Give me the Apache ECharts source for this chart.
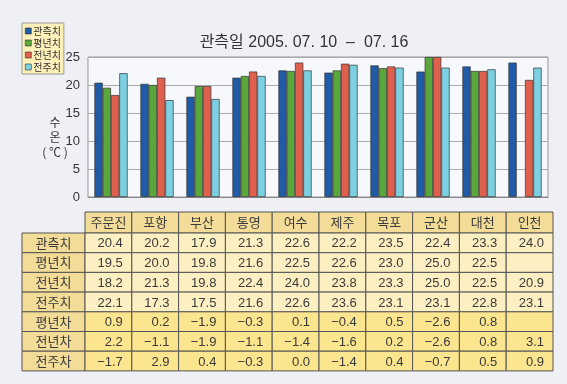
<!DOCTYPE html>
<html><head><meta charset="utf-8">
<script src="https://cdn.jsdelivr.net/npm/echarts@6/dist/echarts.min.js"></script>
<style>html,body{margin:0;padding:0;background:#eef0f6;}#c{width:567px;height:384px;}</style>
</head><body><div id="c"></div>
<script>
var stations = ['주문진','포항','부산','통영','여수','제주','목포','군산','대천','인천'];
var seriesNames = ['관측치','평년치','전년치','전주치'];
var observed = [20.4,20.2,17.9,21.3,22.6,22.2,23.5,22.4,23.3,24.0];
var normal   = [19.5,20.0,19.8,21.6,22.5,22.6,23.0,25.0,22.5,null];
var lastYear = [18.2,21.3,19.8,22.4,24.0,23.8,23.3,25.0,22.5,20.9];
var lastWeek = [22.1,17.3,17.5,21.6,22.6,23.6,23.1,23.1,22.8,23.1];
var diffNormal   = [0.9,0.2,-1.9,-0.3,0.1,-0.4,0.5,-2.6,0.8,null];
var diffLastYear = [2.2,-1.1,-1.9,-1.1,-1.4,-1.6,0.2,-2.6,0.8,3.1];
var diffLastWeek = [-1.7,2.9,0.4,-0.3,0.0,-1.4,0.4,-0.7,0.5,0.9];
var diffNames = ['평년차','전년차','전주차'];
var yTicks = [0,5,10,15,20,25];
var colors = ['#1f5ba6','#5aa83c','#e0604e','#7dd0e2'];

var chart = echarts.init(document.getElementById('c'));
var kr = '"Noto Sans CJK KR", sans-serif';
var num = '"Liberation Sans", Arial, sans-serif';
var mix = '"Liberation Sans", "Noto Sans CJK KR", sans-serif';

// table graphics
var g = [];
var colX0 = 85, colW = 46.8, labX0 = 22, headY = 212, headH = 21, rowH = 19.7;
var hdrBg = '#f3dc98', cellBg = '#fcefc2', diffBg = '#fbe58e', bd = '#555';
function rect(x,y,w,h,fill){ g.push({type:'rect',shape:{x:x,y:y,width:w,height:h},style:{fill:fill,stroke:bd,lineWidth:1},silent:true}); }
function txt(x,y,s,align,font){ g.push({type:'text',x:x,y:y,style:{text:s,textAlign:align,textVerticalAlign:'middle',fontSize:13,fontFamily:font,fill:'#3a3a3a'},silent:true}); }
stations.forEach(function(s,i){
  rect(colX0+i*colW, headY, colW, headH, hdrBg);
  txt(colX0+i*colW+colW/2, headY+headH/2, s, 'center', kr);
});
var rows = [
  [seriesNames[0], observed, cellBg],
  [seriesNames[1], normal, cellBg],
  [seriesNames[2], lastYear, cellBg],
  [seriesNames[3], lastWeek, cellBg],
  [diffNames[0], diffNormal, diffBg],
  [diffNames[1], diffLastYear, diffBg],
  [diffNames[2], diffLastWeek, diffBg]
];
rows.forEach(function(r,ri){
  var y = headY+headH+ri*rowH;
  rect(labX0, y, colX0-labX0, rowH, hdrBg);
  txt((labX0+colX0)/2, y+rowH/2, r[0], 'center', kr);
  r[1].forEach(function(v,i){
    rect(colX0+i*colW, y, colW, rowH, r[2]);
    if (v !== null) txt(colX0+(i+1)*colW-9, y+rowH/2+1, v.toFixed(1).replace('-', '−'), 'right', num);
  });
});
// y axis name
g.push({type:'text',x:55,y:122,style:{text:'수',fontSize:12,fontFamily:kr,fill:'#333',textAlign:'center',textVerticalAlign:'middle'}});
g.push({type:'text',x:55,y:137,style:{text:'온',fontSize:12,fontFamily:kr,fill:'#333',textAlign:'center',textVerticalAlign:'middle'}});
g.push({type:'text',x:55,y:152,style:{text:'( ℃ )',fontSize:12,fontFamily:kr,fill:'#333',textAlign:'center',textVerticalAlign:'middle'}});

var data = [observed, normal, lastYear, lastWeek];
chart.setOption({
  backgroundColor:'#eef0f6',
  animation:false,
  title:{text:'관측일 2005. 07. 10  –  07. 16', left:299, top:30, textAlign:'center',
    textStyle:{fontSize:16,fontWeight:'normal',fontFamily:mix,color:'#333'}},
  legend:{data:seriesNames, orient:'vertical', left:22, top:23, icon:'rect', itemWidth:6, itemHeight:6, itemGap:2,
    backgroundColor:'#fdf0b8', borderColor:'#999', borderWidth:1, padding:[3,3,2,3],
    textStyle:{fontSize:10,fontFamily:kr,color:'#333',padding:[0,0,0,-3]},
    itemStyle:{borderColor:'#333',borderWidth:0.6}},
  grid:{left:88, top:57, width:460, height:140, show:true, backgroundColor:'#f7f8fb', borderColor:'#999', borderWidth:1},
  xAxis:{type:'category', data:stations, axisLabel:{show:false}, axisTick:{show:false},
    axisLine:{lineStyle:{color:'#888'}}},
  yAxis:{type:'value', min:yTicks[0], max:yTicks[yTicks.length-1], interval:5,
    axisLabel:{fontSize:13,fontFamily:num,color:'#333',margin:8},
    axisLine:{show:false}, axisTick:{show:false},
    splitLine:{lineStyle:{color:'#aaa'}}},
  series: seriesNames.map(function(n,i){
    return {name:n, type:'bar', data:data[i], barWidth:8.3, barGap:'0%',
      itemStyle:{color:colors[i], borderColor:'#333', borderWidth:0.7}};
  }),
  graphic:g
});
</script></body></html>
